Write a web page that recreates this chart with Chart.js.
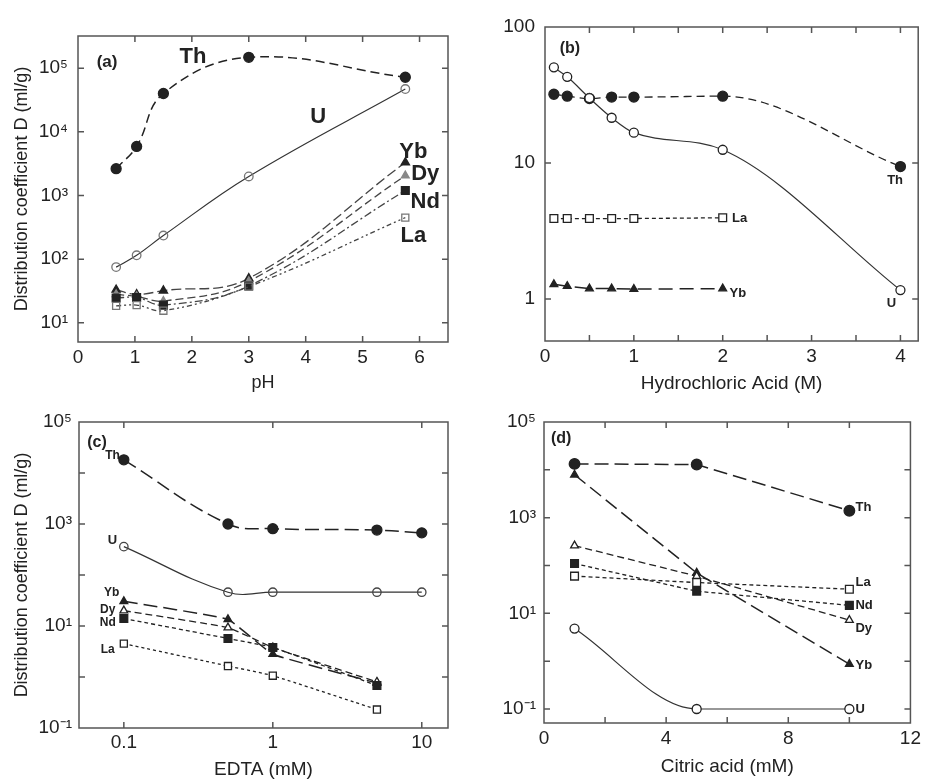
<!DOCTYPE html>
<html>
<head>
<meta charset="utf-8">
<script src="https://cdn.jsdelivr.net/npm/chart.js@4.4.1/dist/chart.umd.min.js"></script>
<style>
  html, body { margin: 0; padding: 0; background: #fff; }
  body { width: 925px; height: 782px; position: relative; overflow: hidden; }
  canvas { position: absolute; }
</style>
</head>
<body>
<canvas id="panel-a" width="462" height="400" style="left:0;top:0;width:462px;height:400px"></canvas>
<canvas id="panel-b" width="463" height="400" style="left:462px;top:0;width:463px;height:400px"></canvas>
<canvas id="panel-c" width="462" height="391" style="left:0;top:391px;width:462px;height:391px"></canvas>
<canvas id="panel-d" width="463" height="391" style="left:462px;top:391px;width:463px;height:391px"></canvas>
<script>
// ---- (a) pH ----
const phX = [0.67, 1.03, 1.5, 3.0, 5.75];
const phTh = [2640, 5900, 40000, 148000, 72000];
const phU = [75, 115, 235, 1990, 47000];
const phYb = [33, 28, 32, 50, 3300];
const phDy = [28, 26, 22, 45, 2050];
const phNd = [24.5, 25, 19, 38, 1200];
const phLa = [18.5, 19, 15.5, 37, 450];
const phTicks = [0, 1, 2, 3, 4, 5, 6];
const phTickLabels = ["0", "1", "2", "3", "4", "5", "6"];
const aYTicks = [10, 100, 1000, 10000, 100000];
const aYTickLabels = ["10¹", "10²", "10³", "10⁴", "10⁵"];

// ---- (b) hydrochloric acid ----
const hclX = [0.1, 0.25, 0.5, 0.75, 1, 2, 4];
const hclTh = [32, 31, 29.8, 30.5, 30.5, 31, 9.4];
const hclU = [50.5, 43, 30, 21.5, 16.7, 12.5, 1.16];
const hclReeX = [0.1, 0.25, 0.5, 0.75, 1, 2];
const hclLa = [3.9, 3.9, 3.9, 3.9, 3.9, 3.95];
const hclYb = [1.28, 1.24, 1.19, 1.19, 1.18, 1.19];
const hclTicks = [0, 0.5, 1, 1.5, 2, 2.5, 3, 3.5, 4];
const hclTickLabels = ["0", "", "1", "", "2", "", "3", "", "4"];
const bYTicks = [1, 10, 100];
const bYTickLabels = ["1", "10", "100"];

// ---- (c) EDTA ----
const edtaX = [0.1, 0.5, 1, 5, 10];
const edtaTh = [18100, 1000, 810, 760, 670];
const edtaU = [360, 46, 46, 46, 46];
const edtaReeX = [0.1, 0.5, 1, 5];
const edtaYb = [30.5, 13.5, 2.8, 0.76];
const edtaDy = [20, 9.3, 3.8, 0.8];
const edtaNd = [14, 5.7, 3.8, 0.68];
const edtaLa = [4.5, 1.64, 1.06, 0.23];
const edtaTicks = [0.1, 1, 10];
const edtaTickLabels = ["0.1", "1", "10"];

// ---- (d) citric acid ----
const citX = [1, 5, 10];
const citTh = [13300, 12900, 1400];
const citYb = [7900, 70, 0.87];
const citDy = [260, 60, 7.2];
const citNd = [110, 29, 14.7];
const citLa = [60, 44, 32];
const citU = [4.8, 0.1, 0.1];
const citTicks = [0, 2, 4, 6, 8, 10, 12];
const citTickLabels = ["0", "", "4", "", "8", "", "12"];

// shared y ticks for (c) and (d)
const cdYTicks = [0.1, 1, 10, 100, 1000, 10000, 100000];
const cdYTickLabels = ["10⁻¹", "", "10¹", "", "10³", "", "10⁵"];

const FONT = "'Liberation Sans', Arial, sans-serif";
const INK = "#222";
const GREY = "#777";
const CLEAR = "rgba(0,0,0,0)";

// box frame, inside tick marks and the text notes next to the curves
const framePlugin = {
  id: "frame",
  beforeDatasetsDraw(chart, args, opts) {
    const ctx = chart.ctx;
    const xs = chart.scales.x;
    const ys = chart.scales.y;
    ctx.save();
    ctx.fillStyle = INK;
    ctx.textBaseline = "middle";
    (opts.notes || []).forEach(function (n) {
      ctx.font = "bold " + n.size + "px " + FONT;
      ctx.textAlign = n.align || "center";
      ctx.fillText(n.text, xs.getPixelForValue(n.x), ys.getPixelForValue(n.y));
    });
    ctx.restore();
  },
  afterDraw(chart) {
    const ctx = chart.ctx;
    const a = chart.chartArea;
    const xs = chart.scales.x;
    const ys = chart.scales.y;
    const len = 6;
    ctx.save();
    ctx.strokeStyle = "#555";
    ctx.lineWidth = 1.5;
    ctx.strokeRect(a.left, a.top, a.right - a.left, a.bottom - a.top);
    ctx.beginPath();
    xs.ticks.forEach(function (t) {
      const px = xs.getPixelForValue(t.value);
      if (px <= a.left + 1 || px >= a.right - 1) return;
      ctx.moveTo(px, a.bottom);
      ctx.lineTo(px, a.bottom - len);
      ctx.moveTo(px, a.top);
      ctx.lineTo(px, a.top + len);
    });
    ys.ticks.forEach(function (t) {
      const py = ys.getPixelForValue(t.value);
      if (py <= a.top + 1 || py >= a.bottom - 1) return;
      ctx.moveTo(a.left, py);
      ctx.lineTo(a.left + len, py);
      ctx.moveTo(a.right, py);
      ctx.lineTo(a.right - len, py);
    });
    ctx.stroke();
    ctx.restore();
  },
};

function axis(type, min, max, values, labels, fit, pad, title) {
  const ax = {
    type: type,
    min: min,
    max: max,
    bounds: "data",
    afterBuildTicks: function (s) {
      s.ticks = values.map(function (v) { return { value: v }; });
    },
    afterFit: function (s) {
      if (s.isHorizontal()) s.height = fit;
      else s.width = fit;
    },
    ticks: {
      autoSkip: false,
      maxRotation: 0,
      minRotation: 0,
      padding: pad,
      color: INK,
      font: { family: FONT, size: 19 },
      callback: function (v, i) { return labels[i]; },
    },
    grid: { display: false, drawTicks: false },
    border: { display: false },
  };
  if (title) {
    ax.title = {
      display: true,
      text: title.text,
      color: INK,
      font: { family: FONT, size: title.size || 19 },
      padding: title.padding,
    };
  }
  return ax;
}

function series(xs, ys, look) {
  return Object.assign({
    data: xs.map(function (x, i) { return { x: x, y: ys[i] }; }),
    borderColor: INK,
    borderWidth: 1.3,
    pointBorderColor: INK,
    pointBackgroundColor: INK,
    pointBorderWidth: 1.3,
    pointRadius: 4.5,
    pointStyle: "circle",
    tension: 0.4,
    fill: false,
  }, look);
}

function panel(id, datasets, x, y, pad, notes) {
  return new Chart(document.getElementById(id), {
    type: "line",
    data: { datasets: datasets },
    options: {
      responsive: false,
      animation: false,
      events: [],
      layout: { padding: pad },
      plugins: {
        legend: { display: false },
        tooltip: { enabled: false },
        frame: { notes: notes },
      },
      scales: { x: x, y: y },
    },
    plugins: [framePlugin],
  });
}

const yTitle = "Distribution coefficient D (ml/g)";

// (a)
panel("panel-a", [
  series(phX, phU, { borderColor: "#333", borderWidth: 1.2, pointRadius: 4.3, pointBorderColor: GREY, pointBackgroundColor: CLEAR }),
  series(phX, phLa, { borderColor: "#444", borderDash: [5, 3, 2, 3, 2, 3], pointStyle: "rect", pointRadius: 5, pointBorderColor: GREY, pointBackgroundColor: CLEAR }),
  series(phX, phNd, { borderColor: "#444", borderDash: [8, 3, 2, 3], pointStyle: "rect", pointRadius: 5.5 }),
  series(phX, phDy, { borderColor: "#444", borderDash: [8, 4], pointStyle: "triangle", pointRadius: 4.5, pointBorderColor: "#888", pointBackgroundColor: "#888" }),
  series(phX, phYb, { borderColor: "#444", borderDash: [10, 4], pointStyle: "triangle", pointRadius: 4.8 }),
  series(phX, phTh, { borderWidth: 1.5, borderDash: [9, 5], pointRadius: 5 }),
],
  axis("linear", 0, 6.5, phTicks, phTickLabels, 58, 4, { text: "pH", size: 18, padding: { top: 0, bottom: 6 } }),
  axis("logarithmic", 5, 320000, aYTicks, aYTickLabels, 78, 10, { text: yTitle, size: 18, padding: { top: 11, bottom: 0 } }),
  { left: 0, top: 36, right: 14, bottom: 0 },
  [
    { text: "(a)", x: 0.51, y: 123000, size: 17 },
    { text: "Th", x: 2.02, y: 148000, size: 22 },
    { text: "U", x: 4.22, y: 17100, size: 22 },
    { text: "Yb", x: 5.89, y: 4900, size: 22 },
    { text: "Dy", x: 6.1, y: 2150, size: 22 },
    { text: "Nd", x: 6.1, y: 780, size: 22 },
    { text: "La", x: 5.89, y: 230, size: 22 },
  ]
);

// (b)
panel("panel-b", [
  series(hclX, hclU, { borderColor: "#333", borderWidth: 1.2, cubicInterpolationMode: "monotone", pointBackgroundColor: "#fff" }),
  series(hclReeX, hclLa, { borderDash: [4, 3], tension: 0, pointStyle: "rect", pointRadius: 5.5, pointBackgroundColor: "#fff" }),
  series(hclReeX, hclYb, { borderWidth: 1.5, borderDash: [14, 7], tension: 0, pointStyle: "triangle", pointRadius: 4.5 }),
  series(hclX, hclTh, { borderDash: [8, 5], cubicInterpolationMode: "monotone", pointRadius: 5 }),
],
  axis("linear", 0, 4.2, hclTicks, hclTickLabels, 59, 4, { text: "Hydrochloric Acid (M)", size: 19, padding: { top: 0, bottom: 5 } }),
  axis("logarithmic", 0.49, 100, bYTicks, bYTickLabels, 83, 10, null),
  { left: 0, top: 27, right: 2, bottom: 0 },
  [
    { text: "(b)", x: 0.28, y: 69, size: 16 },
    { text: "Th", x: 3.94, y: 7.4, size: 13 },
    { text: "U", x: 3.9, y: 0.93, size: 13 },
    { text: "La", x: 2.19, y: 3.9, size: 13 },
    { text: "Yb", x: 2.17, y: 1.1, size: 13 },
  ]
);

// (c)
panel("panel-c", [
  series(edtaX, edtaU, { borderColor: "#333", borderWidth: 1.2, pointRadius: 4.2, pointBorderColor: "#444", pointBackgroundColor: CLEAR }),
  series(edtaReeX, edtaLa, { borderDash: [3, 3], tension: 0.15, pointStyle: "rect", pointRadius: 5, pointBackgroundColor: "#fff" }),
  series(edtaReeX, edtaNd, { borderDash: [4, 3], tension: 0.1, pointStyle: "rect", pointRadius: 5.5 }),
  series(edtaReeX, edtaDy, { borderDash: [7, 4], tension: 0.1, pointStyle: "triangle", pointRadius: 4.5, pointBackgroundColor: "#fff" }),
  series(edtaReeX, edtaYb, { borderWidth: 1.5, borderDash: [14, 6], tension: 0.1, pointStyle: "triangle", pointRadius: 4.5 }),
  series(edtaX, edtaTh, { borderWidth: 1.5, borderDash: [14, 6], pointRadius: 5 }),
],
  axis("logarithmic", 0.05, 15, edtaTicks, edtaTickLabels, 54, 3, { text: "EDTA (mM)", size: 19, padding: { top: 0, bottom: 1 } }),
  axis("logarithmic", 0.1, 100000, cdYTicks, cdYTickLabels, 79, 7, { text: yTitle, size: 18, padding: { top: 11, bottom: 0 } }),
  { left: 0, top: 31, right: 14, bottom: 0 },
  [
    { text: "(c)", x: 0.066, y: 39000, size: 16 },
    { text: "Th", x: 0.084, y: 21700, size: 12 },
    { text: "U", x: 0.084, y: 475, size: 13 },
    { text: "Yb", x: 0.083, y: 46, size: 12 },
    { text: "Dy", x: 0.078, y: 21, size: 12 },
    { text: "Nd", x: 0.078, y: 11.8, size: 12 },
    { text: "La", x: 0.078, y: 3.5, size: 12 },
  ]
);

// (d)
panel("panel-d", [
  series(citX, citU, { borderColor: "#333", borderWidth: 1.2, cubicInterpolationMode: "monotone", pointRadius: 4.5, pointBackgroundColor: "#fff" }),
  series(citX, citLa, { borderDash: [4, 3], tension: 0, pointStyle: "rect", pointRadius: 5.5, pointBackgroundColor: "#fff" }),
  series(citX, citNd, { borderDash: [4, 3], tension: 0, pointStyle: "rect", pointRadius: 5.5 }),
  series(citX, citDy, { borderDash: [7, 4], tension: 0, pointStyle: "triangle", pointRadius: 4.5, pointBackgroundColor: "#fff" }),
  series(citX, citYb, { borderWidth: 1.5, borderDash: [14, 6], tension: 0, pointStyle: "triangle", pointRadius: 4.5 }),
  series(citX, citTh, { borderWidth: 1.5, borderDash: [14, 6], tension: 0, pointRadius: 5.3 }),
],
  axis("linear", 0, 12, citTicks, citTickLabels, 59, 4, { text: "Citric acid (mM)", size: 19, padding: { top: 0, bottom: 4 } }),
  axis("logarithmic", 0.051, 100000, cdYTicks, cdYTickLabels, 82, 8, null),
  { left: 0, top: 31, right: 13, bottom: 0 },
  [
    { text: "(d)", x: 0.56, y: 46000, size: 16 },
    { text: "Th", x: 10.2, y: 1620, size: 13, align: "left" },
    { text: "La", x: 10.2, y: 44, size: 13, align: "left" },
    { text: "Nd", x: 10.2, y: 14.7, size: 13, align: "left" },
    { text: "Dy", x: 10.2, y: 4.9, size: 13, align: "left" },
    { text: "Yb", x: 10.2, y: 0.83, size: 13, align: "left" },
    { text: "U", x: 10.2, y: 0.1, size: 13, align: "left" },
  ]
);
</script>
</body>
</html>
